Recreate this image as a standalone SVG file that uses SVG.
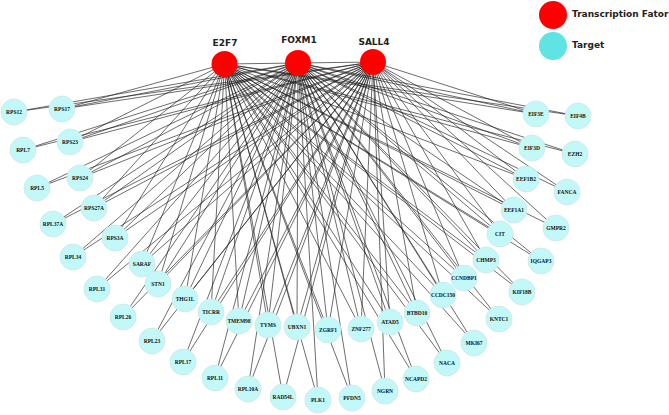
<svg xmlns="http://www.w3.org/2000/svg" width="669" height="415" viewBox="0 0 669 415">
<style>
.e line{stroke:#1e1e1e;stroke-width:0.65}
.t circle{fill:#C2F8F8;stroke:#D2E4E4;stroke-width:0.8}
.t text{font-family:"Liberation Serif","Times New Roman",serif;font-weight:bold;font-size:5.5px;text-anchor:middle;fill:#111}
.tf circle{fill:#FF0000}
.tf text,.lg text{font-family:"DejaVu Sans",Verdana,sans-serif;font-weight:bold;font-size:9px;fill:#222}
.tf text{text-anchor:middle}
</style>
<rect width="669" height="415" fill="#fff"/>
<g id="edges" class="e">
<line x1="224.5" y1="64" x2="298" y2="63"/>
<line x1="298" y1="63" x2="373" y2="62"/>
<!-- E2F7 -->
<line x1="224.5" y1="64" x2="390" y2="322"/>
<line x1="224.5" y1="64" x2="417" y2="313"/>
<line x1="224.5" y1="64" x2="443" y2="295"/>
<line x1="224.5" y1="64" x2="464" y2="278"/>
<line x1="224.5" y1="64" x2="486" y2="260"/>
<line x1="224.5" y1="64" x2="500" y2="234"/>
<line x1="224.5" y1="64" x2="514" y2="210"/>
<line x1="224.5" y1="64" x2="526" y2="179"/>
<line x1="224.5" y1="64" x2="532" y2="148"/>
<line x1="224.5" y1="64" x2="536" y2="114"/>
<line x1="224.5" y1="64" x2="62" y2="109"/>
<line x1="224.5" y1="64" x2="70" y2="142"/>
<line x1="224.5" y1="64" x2="80" y2="178"/>
<line x1="224.5" y1="64" x2="94" y2="208"/>
<line x1="224.5" y1="64" x2="115" y2="238"/>
<line x1="224.5" y1="64" x2="142" y2="264"/>
<line x1="224.5" y1="64" x2="158" y2="284"/>
<line x1="224.5" y1="64" x2="185" y2="299"/>
<line x1="224.5" y1="64" x2="211" y2="312"/>
<line x1="224.5" y1="64" x2="239" y2="321"/>
<line x1="224.5" y1="64" x2="268" y2="325"/>
<line x1="224.5" y1="64" x2="297" y2="327"/>
<line x1="224.5" y1="64" x2="328" y2="330"/>
<line x1="224.5" y1="64" x2="361" y2="329"/>
<line x1="224.5" y1="64" x2="578" y2="116"/>
<line x1="224.5" y1="64" x2="575" y2="154"/>
<line x1="224.5" y1="64" x2="556" y2="228"/>
<line x1="224.5" y1="64" x2="541" y2="261"/>
<line x1="224.5" y1="64" x2="522" y2="292"/>
<line x1="224.5" y1="64" x2="499" y2="319"/>
<line x1="224.5" y1="64" x2="474" y2="343"/>
<line x1="224.5" y1="64" x2="447" y2="363"/>
<line x1="224.5" y1="64" x2="416" y2="379"/>
<line x1="224.5" y1="64" x2="352" y2="398"/>
<line x1="224.5" y1="64" x2="318" y2="400"/>
<line x1="224.5" y1="64" x2="283" y2="397"/>
<!-- FOXM1 -->
<line x1="298" y1="63" x2="390" y2="322"/>
<line x1="298" y1="63" x2="417" y2="313"/>
<line x1="298" y1="63" x2="443" y2="295"/>
<line x1="298" y1="63" x2="464" y2="278"/>
<line x1="298" y1="63" x2="486" y2="260"/>
<line x1="298" y1="63" x2="500" y2="234"/>
<line x1="298" y1="63" x2="514" y2="210"/>
<line x1="298" y1="63" x2="526" y2="179"/>
<line x1="298" y1="63" x2="532" y2="148"/>
<line x1="298" y1="63" x2="536" y2="114"/>
<line x1="298" y1="63" x2="62" y2="109"/>
<line x1="298" y1="63" x2="70" y2="142"/>
<line x1="298" y1="63" x2="80" y2="178"/>
<line x1="298" y1="63" x2="94" y2="208"/>
<line x1="298" y1="63" x2="115" y2="238"/>
<line x1="298" y1="63" x2="142" y2="264"/>
<line x1="298" y1="63" x2="158" y2="284"/>
<line x1="298" y1="63" x2="185" y2="299"/>
<line x1="298" y1="63" x2="211" y2="312"/>
<line x1="298" y1="63" x2="239" y2="321"/>
<line x1="298" y1="63" x2="268" y2="325"/>
<line x1="298" y1="63" x2="297" y2="327"/>
<line x1="298" y1="63" x2="328" y2="330"/>
<line x1="298" y1="63" x2="361" y2="329"/>
<line x1="298" y1="63" x2="578" y2="116"/>
<line x1="298" y1="63" x2="575" y2="154"/>
<line x1="298" y1="63" x2="567" y2="192"/>
<line x1="298" y1="63" x2="541" y2="261"/>
<line x1="298" y1="63" x2="522" y2="292"/>
<line x1="298" y1="63" x2="499" y2="319"/>
<line x1="298" y1="63" x2="474" y2="343"/>
<line x1="298" y1="63" x2="447" y2="363"/>
<line x1="298" y1="63" x2="416" y2="379"/>
<line x1="298" y1="63" x2="385" y2="391"/>
<line x1="298" y1="63" x2="352" y2="398"/>
<line x1="298" y1="63" x2="318" y2="400"/>
<line x1="298" y1="63" x2="248" y2="389"/>
<line x1="298" y1="63" x2="215" y2="378"/>
<line x1="298" y1="63" x2="183" y2="362"/>
<line x1="298" y1="63" x2="152" y2="341"/>
<line x1="298" y1="63" x2="123" y2="317"/>
<line x1="298" y1="63" x2="97" y2="289"/>
<line x1="298" y1="63" x2="73" y2="257"/>
<line x1="298" y1="63" x2="53" y2="224"/>
<line x1="298" y1="63" x2="37" y2="188"/>
<line x1="298" y1="63" x2="23" y2="150"/>
<line x1="298" y1="63" x2="14" y2="112"/>
<!-- SALL4 -->
<line x1="373" y1="62" x2="390" y2="322"/>
<line x1="373" y1="62" x2="417" y2="313"/>
<line x1="373" y1="62" x2="443" y2="295"/>
<line x1="373" y1="62" x2="464" y2="278"/>
<line x1="373" y1="62" x2="486" y2="260"/>
<line x1="373" y1="62" x2="500" y2="234"/>
<line x1="373" y1="62" x2="514" y2="210"/>
<line x1="373" y1="62" x2="526" y2="179"/>
<line x1="373" y1="62" x2="532" y2="148"/>
<line x1="373" y1="62" x2="536" y2="114"/>
<line x1="373" y1="62" x2="62" y2="109"/>
<line x1="373" y1="62" x2="70" y2="142"/>
<line x1="373" y1="62" x2="80" y2="178"/>
<line x1="373" y1="62" x2="94" y2="208"/>
<line x1="373" y1="62" x2="115" y2="238"/>
<line x1="373" y1="62" x2="142" y2="264"/>
<line x1="373" y1="62" x2="158" y2="284"/>
<line x1="373" y1="62" x2="185" y2="299"/>
<line x1="373" y1="62" x2="211" y2="312"/>
<line x1="373" y1="62" x2="239" y2="321"/>
<line x1="373" y1="62" x2="268" y2="325"/>
<line x1="373" y1="62" x2="297" y2="327"/>
<line x1="373" y1="62" x2="328" y2="330"/>
<line x1="373" y1="62" x2="361" y2="329"/>
<line x1="373" y1="62" x2="567" y2="192"/>
<line x1="373" y1="62" x2="556" y2="228"/>
<line x1="373" y1="62" x2="385" y2="391"/>
<line x1="373" y1="62" x2="283" y2="397"/>
<line x1="373" y1="62" x2="248" y2="389"/>
<line x1="373" y1="62" x2="215" y2="378"/>
<line x1="373" y1="62" x2="183" y2="362"/>
<line x1="373" y1="62" x2="152" y2="341"/>
<line x1="373" y1="62" x2="123" y2="317"/>
<line x1="373" y1="62" x2="97" y2="289"/>
<line x1="373" y1="62" x2="73" y2="257"/>
<line x1="373" y1="62" x2="53" y2="224"/>
<line x1="373" y1="62" x2="37" y2="188"/>
<line x1="373" y1="62" x2="23" y2="150"/>
<line x1="373" y1="62" x2="14" y2="112"/>
</g>
<g id="targets">
<g id="n-ATAD5" class="t"><circle cx="390" cy="322" r="13"/><text x="390" y="324">ATAD5</text></g>
<g id="n-BTBD10" class="t"><circle cx="417" cy="313" r="13"/><text x="417" y="315">BTBD10</text></g>
<g id="n-CCDC150" class="t"><circle cx="443" cy="295" r="13"/><text x="443" y="297">CCDC150</text></g>
<g id="n-CCNDBP1" class="t"><circle cx="464" cy="278" r="13"/><text x="464" y="280">CCNDBP1</text></g>
<g id="n-CHMP3" class="t"><circle cx="486" cy="260" r="13"/><text x="486" y="262">CHMP3</text></g>
<g id="n-CIT" class="t"><circle cx="500" cy="234" r="13"/><text x="500" y="236">CIT</text></g>
<g id="n-EEF1A1" class="t"><circle cx="514" cy="210" r="13"/><text x="514" y="212">EEF1A1</text></g>
<g id="n-EEF1B2" class="t"><circle cx="526" cy="179" r="13"/><text x="526" y="181">EEF1B2</text></g>
<g id="n-EIF3D" class="t"><circle cx="532" cy="148" r="13"/><text x="532" y="150">EIF3D</text></g>
<g id="n-EIF3E" class="t"><circle cx="536" cy="114" r="13"/><text x="536" y="116">EIF3E</text></g>
<g id="n-RPS17" class="t"><circle cx="62" cy="109" r="13"/><text x="62" y="111">RPS17</text></g>
<g id="n-RPS23" class="t"><circle cx="70" cy="142" r="13"/><text x="70" y="144">RPS23</text></g>
<g id="n-RPS24" class="t"><circle cx="80" cy="178" r="13"/><text x="80" y="180">RPS24</text></g>
<g id="n-RPS27A" class="t"><circle cx="94" cy="208" r="13"/><text x="94" y="210">RPS27A</text></g>
<g id="n-RPS3A" class="t"><circle cx="115" cy="238" r="13"/><text x="115" y="240">RPS3A</text></g>
<g id="n-SARAF" class="t"><circle cx="142" cy="264" r="13"/><text x="142" y="266">SARAF</text></g>
<g id="n-STN1" class="t"><circle cx="158" cy="284" r="13"/><text x="158" y="286">STN1</text></g>
<g id="n-THG1L" class="t"><circle cx="185" cy="299" r="13"/><text x="185" y="301">THG1L</text></g>
<g id="n-TICRR" class="t"><circle cx="211" cy="312" r="13"/><text x="211" y="314">TICRR</text></g>
<g id="n-TMEM98" class="t"><circle cx="239" cy="321" r="13"/><text x="239" y="323">TMEM98</text></g>
<g id="n-TYMS" class="t"><circle cx="268" cy="325" r="13"/><text x="268" y="327">TYMS</text></g>
<g id="n-UBXN1" class="t"><circle cx="297" cy="327" r="13"/><text x="297" y="329">UBXN1</text></g>
<g id="n-ZGRF1" class="t"><circle cx="328" cy="330" r="13"/><text x="328" y="332">ZGRF1</text></g>
<g id="n-ZNF277" class="t"><circle cx="361" cy="329" r="13"/><text x="361" y="331">ZNF277</text></g>
<g id="n-EIF4B" class="t"><circle cx="578" cy="116" r="13"/><text x="578" y="118">EIF4B</text></g>
<g id="n-EZH2" class="t"><circle cx="575" cy="154" r="13"/><text x="575" y="156">EZH2</text></g>
<g id="n-FANCA" class="t"><circle cx="567" cy="192" r="13"/><text x="567" y="194">FANCA</text></g>
<g id="n-GMPR2" class="t"><circle cx="556" cy="228" r="13"/><text x="556" y="230">GMPR2</text></g>
<g id="n-IQGAP3" class="t"><circle cx="541" cy="261" r="13"/><text x="541" y="263">IQGAP3</text></g>
<g id="n-KIF18B" class="t"><circle cx="522" cy="292" r="13"/><text x="522" y="294">KIF18B</text></g>
<g id="n-KNTC1" class="t"><circle cx="499" cy="319" r="13"/><text x="499" y="321">KNTC1</text></g>
<g id="n-MKI67" class="t"><circle cx="474" cy="343" r="13"/><text x="474" y="345">MKI67</text></g>
<g id="n-NACA" class="t"><circle cx="447" cy="363" r="13"/><text x="447" y="365">NACA</text></g>
<g id="n-NCAPD2" class="t"><circle cx="416" cy="379" r="13"/><text x="416" y="381">NCAPD2</text></g>
<g id="n-NGRN" class="t"><circle cx="385" cy="391" r="13"/><text x="385" y="393">NGRN</text></g>
<g id="n-PFDN5" class="t"><circle cx="352" cy="398" r="13"/><text x="352" y="400">PFDN5</text></g>
<g id="n-PLK1" class="t"><circle cx="318" cy="400" r="13"/><text x="318" y="402">PLK1</text></g>
<g id="n-RAD54L" class="t"><circle cx="283" cy="397" r="13"/><text x="283" y="399">RAD54L</text></g>
<g id="n-RPL10A" class="t"><circle cx="248" cy="389" r="13"/><text x="248" y="391">RPL10A</text></g>
<g id="n-RPL11" class="t"><circle cx="215" cy="378" r="13"/><text x="215" y="380">RPL11</text></g>
<g id="n-RPL17" class="t"><circle cx="183" cy="362" r="13"/><text x="183" y="364">RPL17</text></g>
<g id="n-RPL23" class="t"><circle cx="152" cy="341" r="13"/><text x="152" y="343">RPL23</text></g>
<g id="n-RPL26" class="t"><circle cx="123" cy="317" r="13"/><text x="123" y="319">RPL26</text></g>
<g id="n-RPL31" class="t"><circle cx="97" cy="289" r="13"/><text x="97" y="291">RPL31</text></g>
<g id="n-RPL34" class="t"><circle cx="73" cy="257" r="13"/><text x="73" y="259">RPL34</text></g>
<g id="n-RPL37A" class="t"><circle cx="53" cy="224" r="13"/><text x="53" y="226">RPL37A</text></g>
<g id="n-RPL5" class="t"><circle cx="37" cy="188" r="13"/><text x="37" y="190">RPL5</text></g>
<g id="n-RPL7" class="t"><circle cx="23" cy="150" r="13"/><text x="23" y="152">RPL7</text></g>
<g id="n-RPS12" class="t"><circle cx="14" cy="112" r="13"/><text x="14" y="114">RPS12</text></g>
</g>
<g id="tfs">
<g id="n-E2F7" class="tf"><circle cx="224.5" cy="64" r="13"/><text x="225" y="46">E2F7</text></g>
<g id="n-FOXM1" class="tf"><circle cx="298" cy="63" r="13"/><text x="299" y="43.3">FOXM1</text></g>
<g id="n-SALL4" class="tf"><circle cx="373" cy="62" r="13"/><text x="374" y="45">SALL4</text></g>
</g>
<g id="legend" class="lg">
<circle cx="553" cy="15" r="14" fill="#FF0000"/>
<text x="572" y="17">Transcription Fator</text>
<circle cx="553" cy="46" r="14" fill="#5FE3E3"/>
<text x="572" y="47.5">Target</text>
</g>
</svg>
